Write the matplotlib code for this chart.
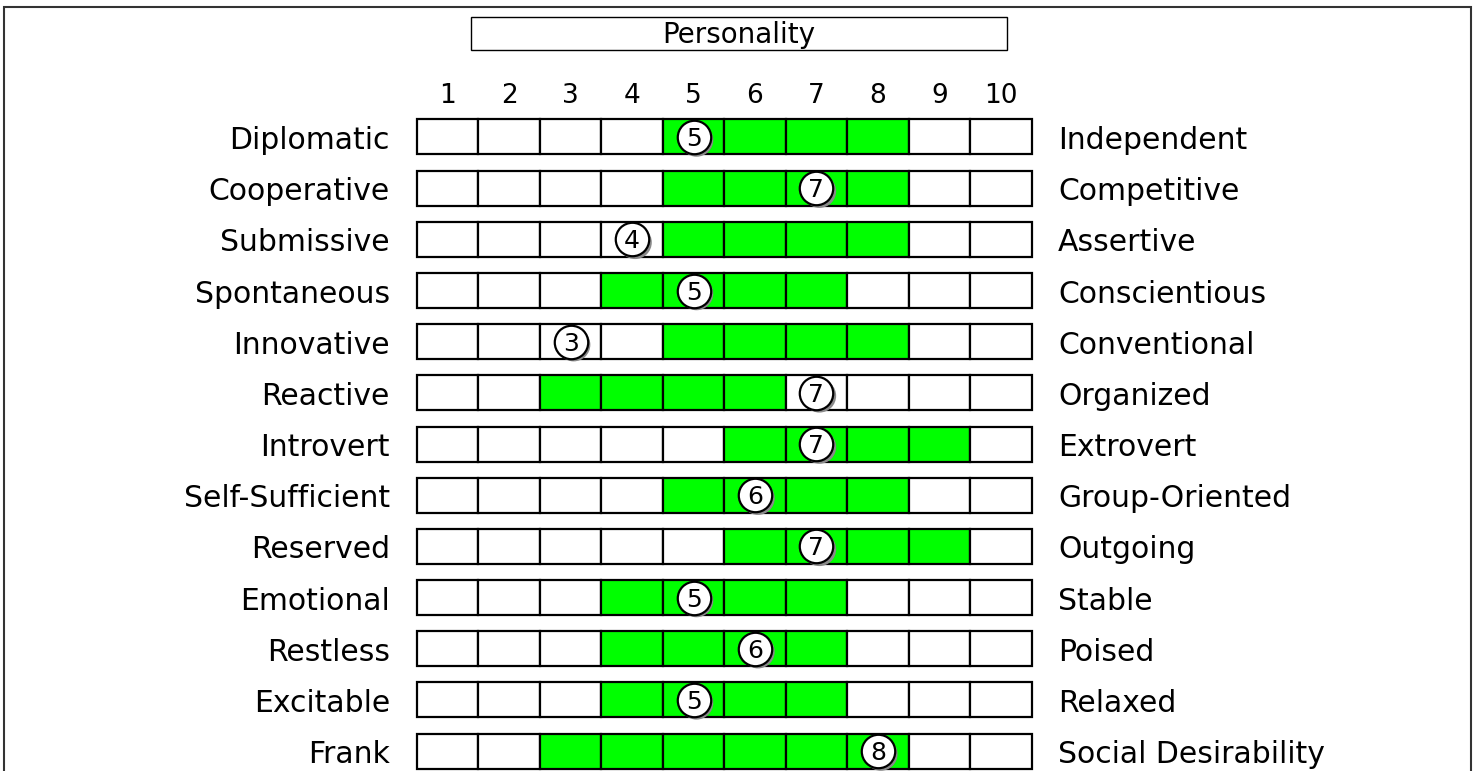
import matplotlib
matplotlib.use("Agg")
import matplotlib.pyplot as plt
import matplotlib.transforms as mtransforms
from matplotlib.patches import Rectangle
import numpy as np

plt.rcParams['font.family'] = ['DejaVu Sans']

title = "Personality"
scale_labels = ["1", "2", "3", "4", "5", "6", "7", "8", "9", "10"]
left_traits = ["Diplomatic", "Cooperative", "Submissive", "Spontaneous", "Innovative",
               "Reactive", "Introvert", "Self-Sufficient", "Reserved", "Emotional",
               "Restless", "Excitable", "Frank"]
right_traits = ["Independent", "Competitive", "Assertive", "Conscientious", "Conventional",
                "Organized", "Extrovert", "Group-Oriented", "Outgoing", "Stable",
                "Poised", "Relaxed", "Social Desirability"]
scores = [5, 7, 4, 5, 3, 7, 7, 6, 7, 5, 6, 5, 8]
range_low = [5, 5, 5, 4, 5, 3, 6, 5, 6, 4, 4, 4, 3]
range_high = [8, 8, 8, 7, 8, 6, 9, 8, 9, 7, 7, 7, 8]

W, H = 1477, 771
fig = plt.figure(figsize=(W / 100, H / 100), dpi=100)
ax = fig.add_axes([0, 0, 1, 1])
ax.set_axis_off()

cell_px = 61.45
row_px = 51.17
x0_px = 417.0
y0_px = 137.0
ax.set_xlim(0.5 - x0_px / cell_px, 0.5 + (W - x0_px) / cell_px)
ax.set_ylim(1 + (H - y0_px) / row_px, 1 - y0_px / row_px)


def shifted(dx, dy):
    return mtransforms.offset_copy(ax.transData, fig=fig, x=dx, y=dy, units="dots")


green = "#00ff00"
cells = np.arange(1, len(scale_labels) + 1)
box_h = 35 / row_px
label_tr = shifted(0, -12)
for i in range(len(left_traits)):
    row = i + 1
    colors = [green if range_low[i] <= c <= range_high[i] else "white" for c in cells]
    ax.barh([row] * len(cells), [1] * len(cells), left=cells - 0.5, height=box_h,
            color=colors, edgecolor="black", linewidth=1.6, zorder=2)
    ax.text(0.5 - 27 / cell_px, row, left_traits[i], ha="right", va="baseline",
            fontsize=21.5, color="black", transform=label_tr)
    ax.text(0.5 + 641 / cell_px, row, right_traits[i], ha="left", va="baseline",
            fontsize=21.5, color="black", transform=label_tr)

rows = np.arange(1, len(scores) + 1)
ax.scatter(scores, rows, s=580, color="#8a8a8a", edgecolors="none",
           transform=shifted(3, -3), zorder=3)
ax.scatter(scores, rows, s=580, color="white", edgecolors="black", linewidths=1.6, zorder=4)
digit_tr = shifted(0, -9)
for s, r in zip(scores, rows):
    ax.text(s, r, str(s), ha="center", va="baseline", fontsize=18, zorder=5,
            transform=digit_tr)

# scale numbers
num_y = 1 + (103 - y0_px) / row_px
for c, lab in zip(cells, scale_labels):
    ax.text(c, num_y, lab, ha="center", va="baseline", fontsize=19)

# title box (figure pixel coordinates)
fig.patches.append(Rectangle((471 / W, 1 - 50 / H), (1007 - 471) / W, 33 / H,
                             transform=fig.transFigure, facecolor="white",
                             edgecolor="black", linewidth=1.0))
fig.text((471 + 1007) / 2 / W, 1 - 43 / H, title, ha="center", va="baseline", fontsize=20)

# outer frame
fig.patches.append(Rectangle((4 / W, -0.05), (1471 - 4) / W, 1.05 - 7 / H,
                             transform=fig.transFigure, facecolor="none",
                             edgecolor="#333333", linewidth=1.5))

fig.savefig("out.png", dpi=100)
